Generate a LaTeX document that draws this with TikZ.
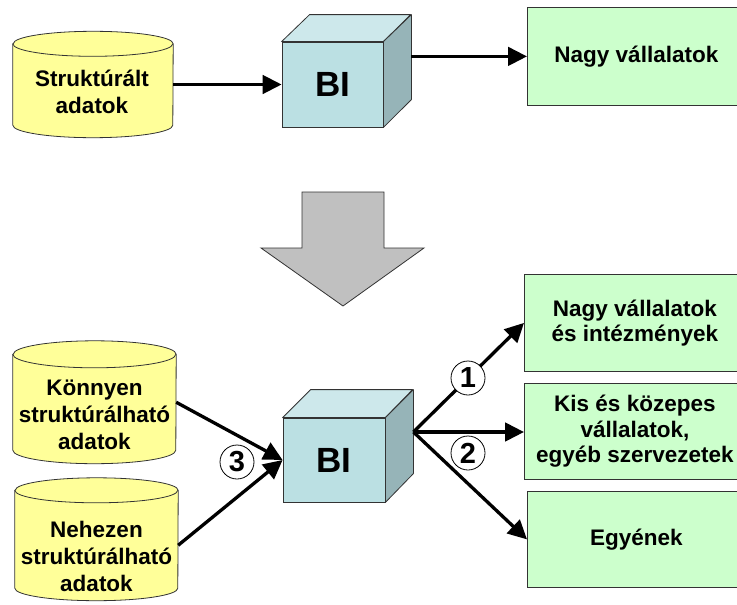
\documentclass[tikz,border=0pt]{standalone}
\usepackage{fontspec}
\setmainfont{Liberation Sans}
\usetikzlibrary{arrows.meta,calc}
\definecolor{cylY}{HTML}{FFFF99}
\definecolor{boxG}{HTML}{CCFFCC}
\definecolor{cubeF}{HTML}{BBE0E3}
\definecolor{cubeT}{HTML}{CDE8EB}
\definecolor{cubeS}{HTML}{96B4B8}
\definecolor{arrG}{HTML}{C0C0C0}
\definecolor{edgec}{HTML}{333333}
\begin{document}
\begin{tikzpicture}[x=1pt,y=-1pt,
 txt/.style={font=\bfseries\fontsize{22.5}{27}\selectfont, align=center, inner sep=0pt},
 gbox/.style={draw=edgec, line width=0.8pt, fill=boxG, anchor=north west, inner sep=0pt, font=\bfseries\fontsize{22.5}{25.5}\selectfont, align=center},
 cubefront/.style={draw=edgec, line width=0.8pt, fill=cubeF, inner sep=0pt, font=\bfseries\fontsize{35}{35}\selectfont},
 cubeface/.style={draw=edgec, line width=0.8pt, line join=round},
 cylbody/.style={draw=none, inner sep=0pt},
 cylshape/.style={fill=cylY, draw=edgec, line width=0.8pt},
 flow/.style={line width=3.3pt, -{Triangle[length=19pt,width=18.5pt]}},
 numc/.style={circle, draw=black, line width=0.8pt, fill=white, minimum size=34pt, inner sep=0pt, font=\bfseries\fontsize{29}{29}\selectfont},
 bigarrow/.style={fill=arrG, draw=edgec, line width=0.8pt, line join=miter}
]
\clip (0,0) rectangle (737,605);
\fill[white] (0,0) rectangle (737,605);

% ---------- top row ----------
\node[cylbody, minimum width=160pt, minimum height=81pt] (cylA) at (93,84.5) {};
\path[cylshape] (cylA.north west) -- (cylA.south west)
  arc[start angle=180,end angle=360,x radius=80pt,y radius=12.5pt]
  -- (cylA.north east)
  arc[start angle=0,end angle=180,x radius=80pt,y radius=12.5pt] -- cycle;
\draw[edgec, line width=0.8pt] (cylA.north west)
  arc[start angle=180,end angle=360,x radius=80pt,y radius=12.5pt];
\node[txt] (tA) at (92,91.5) {Struktúrált\\adatok};

\node[cubefront, minimum width=101pt, minimum height=85pt] (bi1) at (332.5,84.5) {BI};
\draw[cubeface, fill=cubeT] (bi1.north west) -- ++(28,-27) -- ++(101,0) -- (bi1.north east) -- cycle;
\draw[cubeface, fill=cubeS] (bi1.north east) -- ++(28,-27) -- ++(0,85) -- (bi1.south east) -- cycle;
\coordinate (bi1out) at ($(bi1.east)+(28,-27)$);

\node[gbox, minimum width=218pt, minimum height=98pt] (g0) at (527,7) {Nagy vállalatok};

\draw[flow] (cylA.east) -- (bi1.west);
\draw[flow] (bi1out |- g0.west) -- (g0.west);

% ---------- big down arrow ----------
\path[bigarrow] (302,192) -- (384,192) -- (384,248) -- (424,248) -- (343,306)
  -- (261,248) -- (302,248) -- cycle;

% ---------- bottom row ----------
\node[cylbody, minimum width=163pt, minimum height=95.5pt] (cylB) at (94.5,402.25) {};
\path[cylshape] (cylB.north west) -- (cylB.south west)
  arc[start angle=180,end angle=360,x radius=81.5pt,y radius=13.5pt]
  -- (cylB.north east)
  arc[start angle=0,end angle=180,x radius=81.5pt,y radius=13.5pt] -- cycle;
\draw[edgec, line width=0.8pt] (cylB.north west)
  arc[start angle=180,end angle=360,x radius=81.5pt,y radius=13.5pt];
\node[txt] (tB) at (94.5,415) {Könnyen\\struktúrálható\\adatok};

\node[cylbody, minimum width=163pt, minimum height=97.5pt] (cylC) at (96.5,539.25) {};
\path[cylshape] (cylC.north west) -- (cylC.south west)
  arc[start angle=180,end angle=360,x radius=81.5pt,y radius=12.5pt]
  -- (cylC.north east)
  arc[start angle=0,end angle=180,x radius=81.5pt,y radius=12.5pt] -- cycle;
\draw[edgec, line width=0.8pt] (cylC.north west)
  arc[start angle=180,end angle=360,x radius=81.5pt,y radius=12.5pt];
\node[txt] (tC) at (96.5,556) {Nehezen\\struktúrálható\\adatok};

\node[cubefront, minimum width=102pt, minimum height=84pt] (bi2) at (334,460) {BI};
\draw[cubeface, fill=cubeT] (bi2.north west) -- ++(28,-28) -- ++(102,0) -- (bi2.north east) -- cycle;
\draw[cubeface, fill=cubeS] (bi2.north east) -- ++(28,-28) -- ++(0,84) -- (bi2.south east) -- cycle;
\coordinate (bi2out) at ($(bi2.east)+(28,-28)$);

\node[gbox, minimum width=221pt, minimum height=97pt] (g1) at (524,274) {Nagy vállalatok\\és intézmények};
\node[gbox, minimum width=221pt, minimum height=96pt] (g2) at (524,383) {Kis és közepes\\vállalatok,\\egyéb szervezetek};
\node[gbox, minimum width=218pt, minimum height=96pt] (g3) at (527,491) {Egyének};

\draw[flow] (cylB.east) -- (bi2.west);
\draw[flow] ([yshift=-6pt]cylC.east) -- (bi2.west);
\draw[flow] (bi2out) -- (g1.west);
\draw[flow] (bi2out) -- (bi2out -| g2.west);
\draw[flow] (bi2out) -- (g3.west);

\node[numc] (n1) at (468,378) {1};
\node[numc] (n2) at (468,453) {2};
\node[numc] (n3) at (237,462) {3};
\end{tikzpicture}
\end{document}
